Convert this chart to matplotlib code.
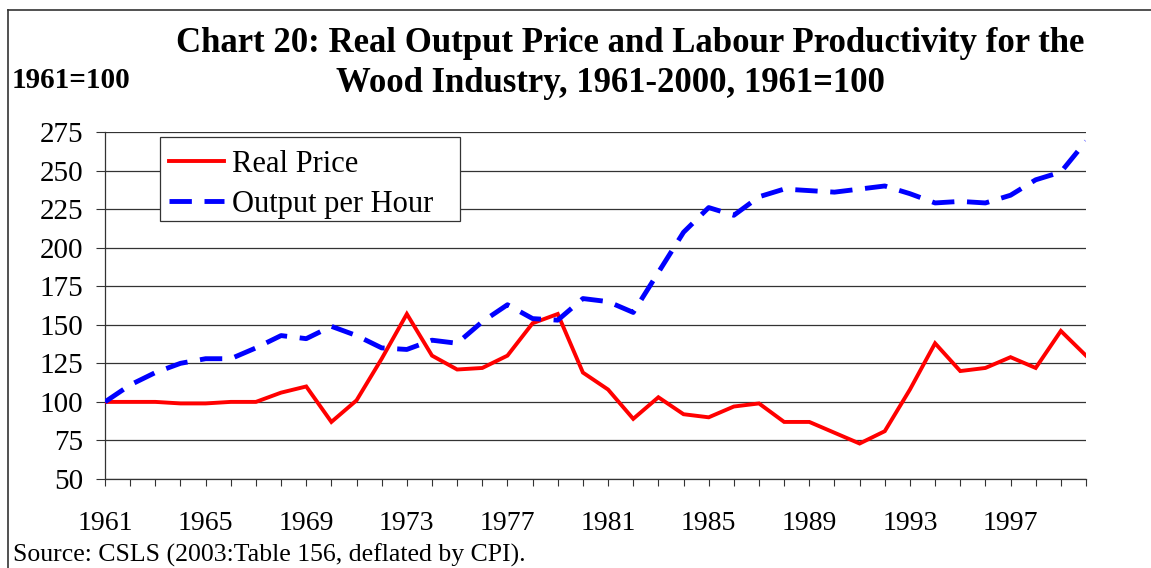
import matplotlib
matplotlib.use("Agg")
import matplotlib.pyplot as plt
from matplotlib.lines import Line2D
from matplotlib.patches import Rectangle

years = list(range(1961, 2001))
real_price = [100, 100, 100, 99, 99, 100, 100, 106, 110, 87,
              101, 128, 157, 130, 121, 122, 130, 151, 157, 119,
              108, 89, 103, 92, 90, 97, 99, 87, 87, 80,
              73, 81, 108, 138, 120, 122, 129, 122, 146, 130]
output_per_hour = [100, 111, 119, 125, 128, 128, 135, 143, 141, 149,
                   143, 135, 134, 140, 138, 152, 163, 154, 153, 167,
                   165, 158, 184, 210, 226, 221, 233, 238, 237, 236,
                   238, 240, 235, 229, 230, 229, 234, 244, 249, 269]
yticks = [50, 75, 100, 125, 150, 175, 200, 225, 250, 275]
xlabels = [1961, 1965, 1969, 1973, 1977, 1981, 1985, 1989, 1993, 1997]

plt.rcParams['font.family'] = ['Liberation Serif', 'DejaVu Serif']

W, H = 1151, 568
AX_L, AX_R, AX_T, AX_B = 105, 1086, 132, 479
fig = plt.figure(figsize=(W / 100, H / 100), dpi=100)
ax = fig.add_axes([AX_L / W, 1 - AX_B / H, (AX_R - AX_L) / W, (AX_B - AX_T) / H])

def ax_x(px):
    return (px - AX_L) / (AX_R - AX_L)

def ax_y(py):
    return (AX_B - py) / (AX_B - AX_T)

ax.plot(years, real_price, color='#ff0000', lw=2.8, label='Real Price',
        solid_joinstyle='miter', zorder=3)
ax.plot(years, output_per_hour, color='#0000ff', lw=3.5, label='Output per Hour',
        dashes=(4.6, 2.6), zorder=3)

ax.set_xlim(1961, 2000)
ax.set_ylim(50, 275)
ax.set_yticks(yticks)
ax.set_xticks(years)
ax.set_xticklabels([str(y) if y in xlabels else '' for y in years])
ax.tick_params(axis='y', labelsize=21, length=6.5, width=0.8, color='#333333', pad=9)
ax.tick_params(axis='x', labelsize=20, length=5, width=0.8, color='#333333', pad=18)
for y in yticks:
    ax.axhline(y, color='#333333', lw=0.9, zorder=1)
for s in ['top', 'right']:
    ax.spines[s].set_visible(False)
for s in ['left', 'bottom']:
    ax.spines[s].set_color('#333333')
    ax.spines[s].set_linewidth(0.9)

# legend frame
ax.add_patch(Rectangle((ax_x(160), ax_y(221)), ax_x(460) - ax_x(160), ax_y(137) - ax_y(221),
                       transform=ax.transAxes, facecolor='white', edgecolor='#333333',
                       lw=0.9, zorder=4))
leg = ax.legend(loc='upper left', bbox_to_anchor=(ax_x(160), ax_y(141)),
                borderaxespad=0, frameon=False,
                fontsize=22, handlelength=1.8, handletextpad=0.25, borderpad=0.3,
                labelspacing=0.35)
leg.set_zorder(5)

fig.text(630 / W, 1 - 43 / H, 'Chart 20: Real Output Price and Labour Productivity for the',
         ha='center', va='center', fontsize=25, fontweight='bold')
fig.text(610 / W, 1 - 84 / H, 'Wood Industry, 1961-2000, 1961=100',
         ha='center', va='center', fontsize=25, fontweight='bold')
fig.text(12 / W, 1 - 80 / H, '1961=100', ha='left', va='center',
         fontsize=21, fontweight='bold')
fig.text(13 / W, 1 - 555 / H, 'Source: CSLS (2003:Table 156, deflated by CPI).',
         ha='left', va='center', fontsize=18.5)

# figure border (top and left)
fig.add_artist(Line2D([8 / W, 8 / W], [0, 1 - 10 / H], transform=fig.transFigure,
                      color='#333333', lw=1.2))
fig.add_artist(Line2D([8 / W, 1], [1 - 10 / H, 1 - 10 / H], transform=fig.transFigure,
                      color='#333333', lw=1.2))

fig.savefig('out.png', dpi=100)
